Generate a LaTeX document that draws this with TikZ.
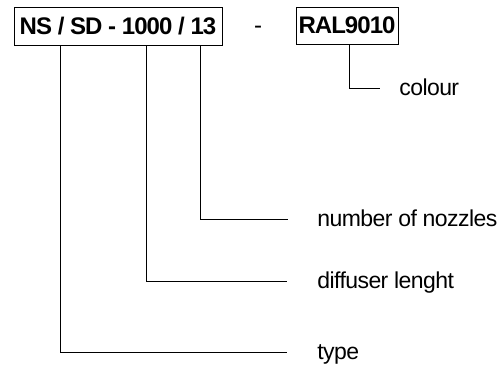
\documentclass[tikz,border=0pt]{standalone}
\usepackage{fontspec}
\setmainfont{Liberation Sans}
\newfontfamily\codefont[LetterSpace=-4]{Liberation Sans}
\newfontfamily\legendfont[LetterSpace=-2.5]{Liberation Sans}
\usetikzlibrary{positioning,calc}

\begin{document}
\begin{tikzpicture}[x=1pt,y=-1pt,
  codebox/.style={draw,line width=.8pt,inner sep=0pt,font=\codefont\fontsize{24}{28}\selectfont\bfseries},
  legend/.style={anchor=west,inner sep=0pt,text height=19pt,text depth=5pt,font=\legendfont\fontsize{23}{27}\selectfont},
  every path/.style={line width=.8pt}]
\useasboundingbox (0,0) rectangle (501,365);
\node[codebox,minimum width=208pt,minimum height=38pt] (code) at (118,26) {NS / SD - 1000 / 13};
\node[font=\fontsize{24}{28}\selectfont] (sep) at (258,30) {-};
\node[codebox,minimum width=102pt,minimum height=37pt] (ral) at (347,25.5) {RAL9010};
\node[legend] (colour) at (399,88) {colour};
\node[legend] (nozzles) at (317,219) {number of nozzles};
\node[legend] (length) at (317,281) {diffuser lenght};
\node[legend] (type) at (317,352) {type};
\coordinate (c1) at ($(code.south west)+(47,0)$);
\coordinate (c2) at ($(code.south west)+(133,0)$);
\coordinate (c3) at ($(code.south west)+(187,0)$);
\coordinate (c4) at ($(ral.south)+(2,0)$);
\draw (c4) |- ([xshift=-19pt]colour.west);
\draw (c3) |- ([xshift=-29pt]nozzles.west);
\draw (c2) |- ([xshift=-30pt]length.west);
\draw (c1) |- ([xshift=-30pt]type.west);
\end{tikzpicture}
\end{document}
